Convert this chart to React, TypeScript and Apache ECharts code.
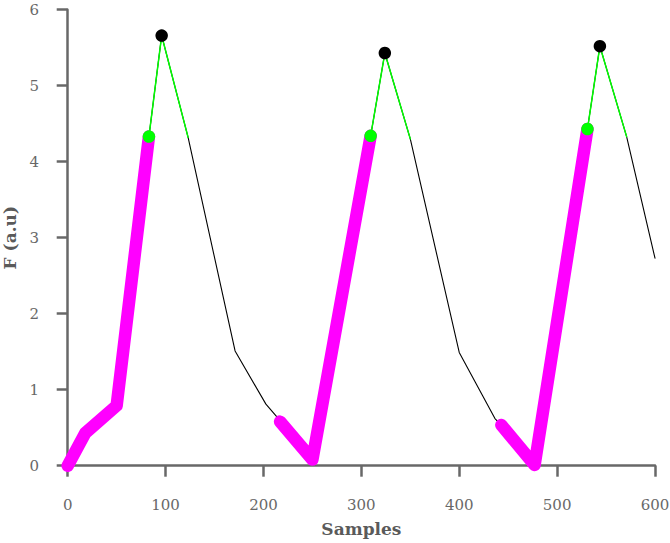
import React, { useEffect, useRef } from "react";
import * as echarts from "echarts";

// Full signal (thin black line)
const signal: number[][] = [
  [0, 0], [18, 0.43], [50, 0.79], [83, 4.33], [96, 5.66], [123, 4.32],
  [171, 1.51], [202.5, 0.81], [213.5, 0.645], [217, 0.58], [250, 0.08],
  [309.5, 4.34], [324, 5.43], [350, 4.3], [400, 1.49], [436.5, 0.62],
  [443, 0.535], [477, 0.01], [531, 4.43], [543.7, 5.52], [571, 4.33], [600, 2.73],
];

// Rising phases (thick magenta)
const riseA: number[][] = [[0, 0], [18, 0.43], [50, 0.79], [83, 4.33]];
const riseB: number[][] = [[217, 0.58], [250, 0.08], [309.5, 4.34]];
const riseC: number[][] = [[443, 0.535], [477, 0.01], [531, 4.43]];

// Peak phases (thin green)
const peakA: number[][] = [[83, 4.33], [96, 5.66], [123, 4.32]];
const peakB: number[][] = [[309.5, 4.34], [324, 5.43], [350, 4.3]];
const peakC: number[][] = [[531, 4.43], [543.7, 5.52], [571, 4.33]];

// Markers
const onsetPoints: number[][] = [[83, 4.33], [309.5, 4.34], [531, 4.43]];
const peakPoints: number[][] = [[96, 5.66], [324, 5.43], [543.7, 5.52]];

const xTicks = { min: 0, max: 600, interval: 100 };
const yTicks = { min: 0, max: 6, interval: 1 };

const GREY = "#686868";
const FONT = "DejaVu Serif";

export default function App() {
  const ref = useRef<HTMLDivElement>(null);
  useEffect(() => {
    if (!ref.current) return;
    const chart = echarts.init(ref.current, undefined, { renderer: "svg" });
    const line = (data: number[][], color: string, width: number, z: number) => ({
      type: "line",
      data,
      showSymbol: false,
      symbol: "none",
      z,
      lineStyle: { color, width, cap: "round", join: "round", opacity: 1 },
      silent: true,
    });
    const axisCommon = {
      axisLine: { show: true, lineStyle: { color: GREY, width: 2.5 } },
      axisTick: { show: true, length: 11, lineStyle: { color: GREY, width: 2.5 } },
      splitLine: { show: false },
      nameTextStyle: { color: "#5a5a5a", fontFamily: FONT, fontWeight: "bold", fontSize: 17 },
    };
    chart.setOption({
      animation: false,
      backgroundColor: "#ffffff",
      grid: {
        left: 67.7,
        right: 15,
        top: 9.7,
        bottom: 77.3,
        containLabel: false,
        outerBoundsMode: "none",
      },
      xAxis: {
        type: "value",
        ...xTicks,
        offset: 11.3,
        name: "Samples",
        nameLocation: "middle",
        nameGap: 43,
        ...axisCommon,
        axisLabel: { color: GREY, fontFamily: FONT, fontSize: 15, margin: 20 },
      },
      yAxis: {
        type: "value",
        ...yTicks,
        offset: 10.7,
        name: "F (a.u)",
        nameLocation: "middle",
        nameGap: 34,
        ...axisCommon,
        axisLabel: { color: GREY, fontFamily: FONT, fontSize: 15, margin: 18 },
      },
      series: [
        line(signal, "#000000", 1.1, 1),
        line(riseA, "#ff00ff", 12.5, 2),
        line(riseB, "#ff00ff", 12.5, 2),
        line(riseC, "#ff00ff", 12.5, 2),
        line(peakA, "#00ff00", 1.5, 3),
        line(peakB, "#00ff00", 1.5, 3),
        line(peakC, "#00ff00", 1.5, 3),
        {
          type: "scatter",
          data: onsetPoints,
          symbol: "circle",
          symbolSize: 12.5,
          itemStyle: { color: "#00ff00", opacity: 1 },
          z: 4,
          silent: true,
        },
        {
          type: "scatter",
          data: peakPoints,
          symbol: "circle",
          symbolSize: 12.5,
          itemStyle: { color: "#000000", opacity: 1 },
          z: 5,
          silent: true,
        },
      ],
    });
    return () => chart.dispose();
  }, []);
  return (
    <div
      ref={ref}
      style={{ position: "fixed", left: 0, top: 0, width: 670, height: 543 }}
    />
  );
}
